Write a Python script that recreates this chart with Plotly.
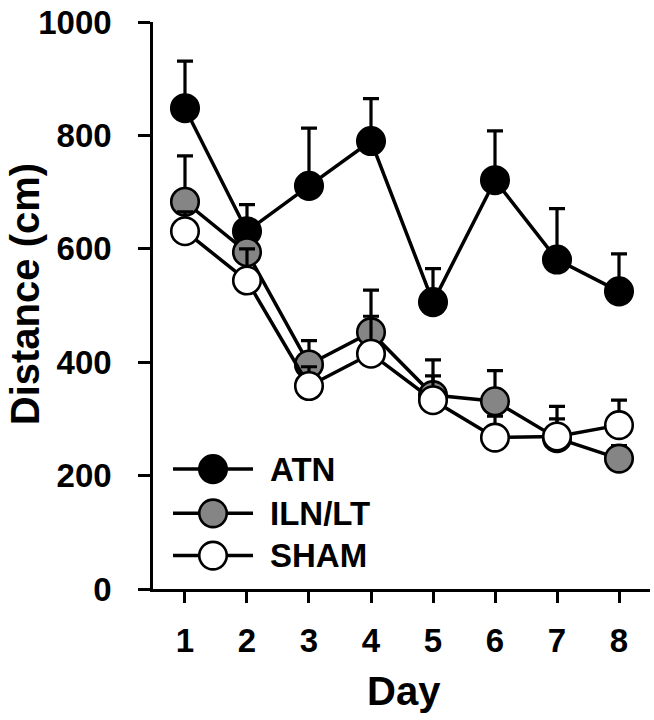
import plotly.graph_objects as go

days = [1, 2, 3, 4, 5, 6, 7, 8]
tick_labels = ["1", "2", "3", "4", "5", "6", "7", "8"]
y_ticks = [0, 200, 400, 600, 800, 1000]

atn_mean = [848, 631, 711, 790, 506, 721, 581, 525]
atn_err_top = [931, 678, 813, 865, 565, 808, 671, 591]

iln_mean = [683, 594, 396, 453, 342, 331, 266, 230]
iln_err_top = [764, 640, 438, 527, 404, 385, 300, 253]

sham_mean = [631, 544, 358, 415, 333, 267, 269, 289]
sham_err_top = [665, 600, 392, 481, 376, 305, 322, 333]

series = [
    ("ATN", atn_mean, atn_err_top, "#000000"),
    ("ILN/LT", iln_mean, iln_err_top, "#858585"),
    ("SHAM", sham_mean, sham_err_top, "#ffffff"),
]

W, H = 654, 720
ML, MR, MT, MB = 153, 4, 12, 131
PW, PH = W - ML - MR, H - MT - MB


def px_x(p):
    return (p - ML) / PW


def px_y(p):
    return (H - MB - p) / PH


FONT = "Liberation Sans, Arial, sans-serif"

fig = go.Figure()
for name, mean, top, color in series:
    fig.add_trace(go.Scatter(
        x=days, y=mean, name=name, mode="lines+markers",
        line=dict(color="black", width=3.5),
        marker=dict(size=27.5, color=color, line=dict(color="black", width=2.6)),
        error_y=dict(type="data", symmetric=False,
                     array=[t - m for t, m in zip(top, mean)],
                     arrayminus=[0] * len(mean),
                     color="black", thickness=3.2, width=8),
        showlegend=False,
    ))

shapes = []
annotations = []
legend_rows = [467, 512, 555]
for (name, mean, top, color), ry in zip(series, legend_rows):
    yy = px_y(ry)
    shapes.append(dict(type="line", xref="paper", yref="paper",
                       x0=px_x(173), x1=px_x(253), y0=yy, y1=yy,
                       line=dict(color="black", width=3.5)))
    shapes.append(dict(type="circle", xref="paper", yref="paper",
                       xsizemode="pixel", ysizemode="pixel",
                       xanchor=px_x(213), yanchor=yy,
                       x0=-13.75, x1=13.75, y0=-13.75, y1=13.75,
                       fillcolor=color, line=dict(color="black", width=2.6)))
    annotations.append(dict(text=name, xref="paper", yref="paper",
                            x=px_x(268), y=yy, xanchor="left", yanchor="middle",
                            showarrow=False,
                            font=dict(family=FONT, size=33, color="black", weight="bold")))

annotations.append(dict(text="Day", xref="paper", yref="paper",
                        x=px_x(404), y=px_y(693), xanchor="center", yanchor="middle",
                        showarrow=False,
                        font=dict(family=FONT, size=40, color="black", weight="bold")))
annotations.append(dict(text="Distance (cm)", xref="paper", yref="paper",
                        x=px_x(25), y=px_y(289), xanchor="center", yanchor="middle",
                        textangle=-90, showarrow=False,
                        font=dict(family=FONT, size=40, color="black", weight="bold")))

fig.update_layout(
    width=W, height=H,
    margin=dict(l=ML, r=MR, t=MT, b=MB),
    paper_bgcolor="white", plot_bgcolor="white",
    shapes=shapes, annotations=annotations,
    showlegend=False,
)
fig.update_xaxes(
    range=[0.484, 8.5], tickvals=days, ticktext=tick_labels,
    showline=True, linecolor="black", linewidth=2.6,
    ticks="outside", ticklen=11, tickwidth=2.6, tickcolor="black",
    ticklabelstandoff=10, ticklabeloverflow="allow",
    showgrid=False, zeroline=False,
    tickfont=dict(family=FONT, size=33, color="black", weight="bold"),
)
fig.update_yaxes(
    range=[0, 1000], tickvals=y_ticks,
    showline=True, linecolor="black", linewidth=2.6,
    ticks="outside", ticklen=12, tickwidth=2.6, tickcolor="black",
    ticklabelstandoff=20, ticklabeloverflow="allow",
    showgrid=False, zeroline=False,
    tickfont=dict(family=FONT, size=33, color="black", weight="bold"),
)

fig.write_html("out.html", config={"displayModeBar": False},
               post_script="document.body.style.margin='0px';")
